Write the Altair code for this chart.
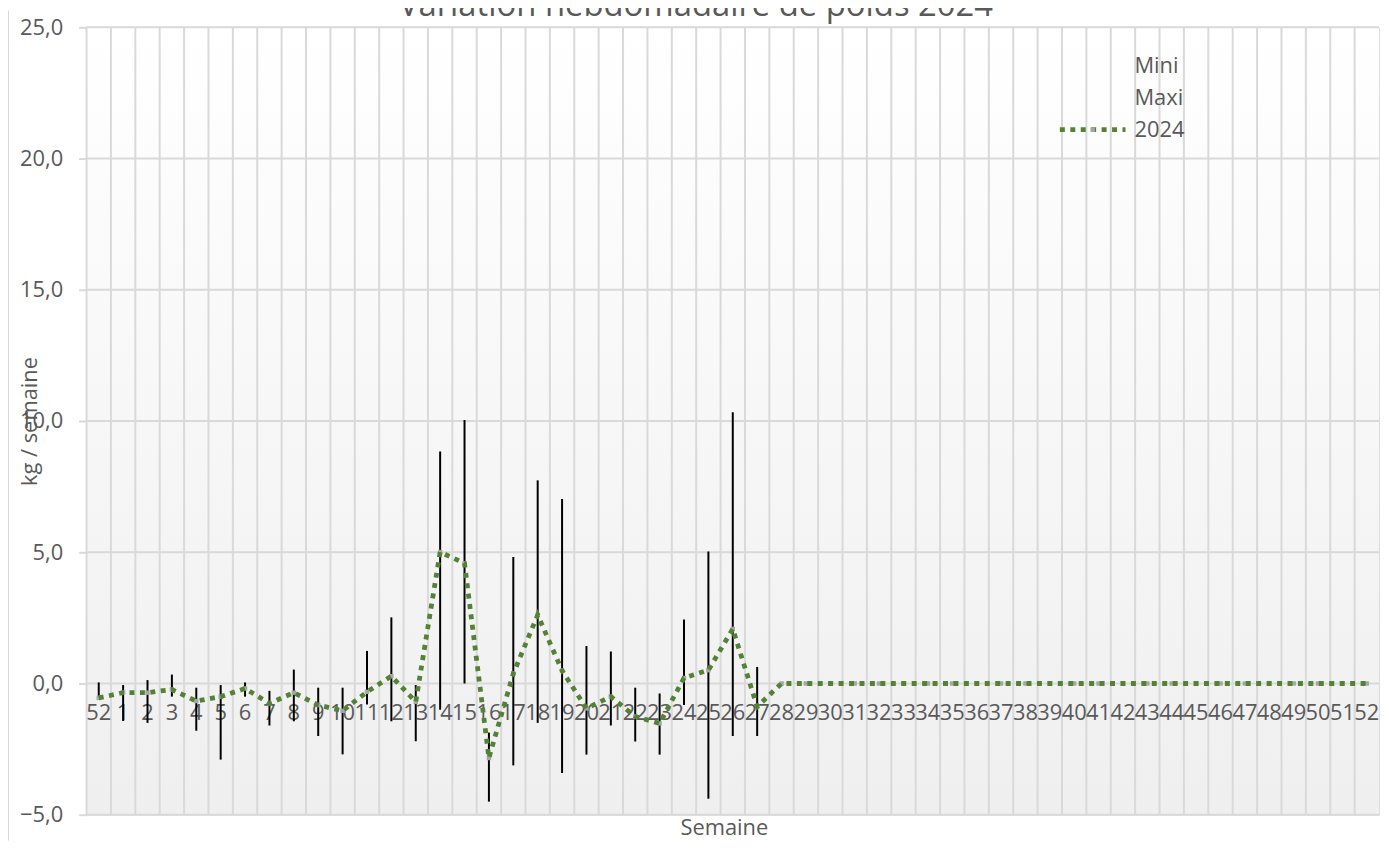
import altair as alt
import pandas as pd

# ---- data ----
weeks = ["52", "1", "2", "3", "4", "5", "6", "7", "8", "9", "10", "11", "12", "13",
         "14", "15", "16", "17", "18", "19", "20", "21", "22", "23", "24", "25", "26",
         "27", "28", "29", "30", "31", "32", "33", "34", "35", "36", "37", "38", "39",
         "40", "41", "42", "43", "44", "45", "46", "47", "48", "49", "50", "51", "52"]

maxi = [0.04, -0.06, 0.13, 0.34, -0.16, -0.06, 0.04, -0.28, 0.53, -0.16, -0.16, 1.24,
        2.52, -0.06, 8.84, 10.04, -1.87, 4.82, 7.74, 7.03, 1.43, 1.22, -0.16, -0.38,
        2.44, 5.03, 10.33, 0.63,
        None, None, None, None, None, None, None, None, None, None, None, None, None,
        None, None, None, None, None, None, None, None, None, None, None, None]

mini = [-0.57, -1.43, -1.5, -0.5, -1.8, -2.9, -0.5, -1.6, -1.44, -2.0, -2.7, -0.8,
        -1.44, -2.2, -1.0, 0.0, -4.5, -3.12, -1.5, -3.41, -2.71, -1.6, -2.21, -2.71,
        -0.82, -4.39, -2.0, -2.0,
        None, None, None, None, None, None, None, None, None, None, None, None, None,
        None, None, None, None, None, None, None, None, None, None, None, None]

v2024 = [-0.55, -0.35, -0.35, -0.23, -0.67, -0.5, -0.19, -0.76, -0.35, -0.82, -1.04,
         -0.32, 0.28, -0.7, 5.01, 4.58, -2.84, 0.38, 2.61, 0.49, -0.95, -0.5, -1.26,
         -1.52, 0.21, 0.51, 2.08, -0.88,
         0.0, 0.0, 0.0, 0.0, 0.0, 0.0, 0.0, 0.0, 0.0, 0.0, 0.0, 0.0, 0.0,
         0.0, 0.0, 0.0, 0.0, 0.0, 0.0, 0.0, 0.0, 0.0, 0.0, 0.0, 0.0]

y_ticks = [-5, 0, 5, 10, 15, 20, 25]
legend_labels = ["Mini", "Maxi", "2024"]
title_text = "Variation hebdomadaire de poids 2024"

# ---- style ----
W, H = 1300, 792
FONT = "Open Sans"
TXT = "#595959"
GRID = "#d9d9d9"
GREEN = "#548235"

df = pd.DataFrame({"idx": list(range(len(weeks))), "week": weeks,
                   "maxi": maxi, "mini": mini, "v": v2024})

xscale = alt.Scale(paddingInner=0, paddingOuter=0)
xaxis = alt.Axis(labels=False, ticks=False, domain=False, grid=False,
                 title="Semaine", titleFont=FONT, titleFontSize=22,
                 titleFontWeight="normal", titleColor=TXT,
                 titleX=641, titleY=20, titleAlign="center",
                 titleBaseline="alphabetic")
yscale = alt.Scale(domain=[-5, 25], nice=False, zero=False)
yaxis = alt.Axis(values=y_ticks,
                 labelExpr="replace(format(datum.value, '.1f'), '.', ',')",
                 labelFont=FONT, labelFontSize=22, labelColor=TXT, labelPadding=16,
                 tickSize=8, tickColor=GRID, tickWidth=2, domain=False, grid=False,
                 title="kg / semaine", titleFont=FONT, titleFontSize=22,
                 titleFontWeight="normal", titleColor=TXT, titleX=-57, titleY=396,
                 titleAngle=270, titleAlign="center", titleBaseline="middle")


def X(**kw):
    return alt.X("idx:O", scale=xscale, axis=xaxis, **kw)


def Y(field):
    return alt.Y(field, scale=yscale, axis=yaxis)


one = pd.DataFrame({"a": [0]})

bg = alt.Chart(one).mark_rect(
    fill={"gradient": "linear", "x1": 0, "x2": 0, "y1": 0, "y2": 1,
          "stops": [{"offset": 0, "color": "#ffffff"},
                    {"offset": 1, "color": "#efefef"}]}
).encode(x=alt.value(0), x2=alt.value(W), y=alt.value(0), y2=alt.value(H))

hgrid = alt.Chart(pd.DataFrame({"t": y_ticks})).mark_rule(
    color=GRID, strokeWidth=2
).encode(y=Y("t:Q"), x=alt.value(0), x2=alt.value(W))

vgrid = alt.Chart(df).mark_rule(color=GRID, strokeWidth=2).encode(
    x=X(bandPosition=0), y=alt.value(0), y2=alt.value(H))

xlabels = alt.Chart(df).mark_text(
    font=FONT, fontSize=22, color=TXT, baseline="alphabetic", dy=37
).encode(x=X(), y=alt.datum(0, scale=yscale, axis=yaxis), text="week:N")

bars = alt.Chart(df).transform_filter("isValid(datum.maxi)").mark_rule(
    color="black", strokeWidth=2
).encode(x=X(), y=Y("mini:Q"), y2="maxi:Q")

pts = alt.Chart(df).mark_square(color="#a6a6a6", size=20, opacity=1).encode(
    x=X(), y=Y("v:Q"))

line = alt.Chart(df).mark_line(
    color=GREEN, strokeWidth=4.8, strokeDash=[5, 5.5], strokeCap="butt"
).encode(x=X(), y=Y("v:Q"))

legend_layers = []
for i, lab in enumerate(legend_labels):
    legend_layers.append(
        alt.Chart(pd.DataFrame({"lab": [lab]})).mark_text(
            font=FONT, fontSize=22, color=TXT, align="left", baseline="middle"
        ).encode(text="lab:N", x=alt.value(1054), y=alt.value(39 + 32 * i))
    )
leg_line = alt.Chart(one).mark_rule(
    color=GREEN, strokeWidth=4.8, strokeDash=[5, 5.5], strokeCap="butt"
).encode(x=alt.value(979), x2=alt.value(1045), y=alt.value(103))
leg_pt = alt.Chart(one).mark_square(color="#a6a6a6", size=20, opacity=1).encode(
    x=alt.value(1012), y=alt.value(103))

title = alt.Chart(pd.DataFrame({"t": [title_text]})).mark_text(
    font=FONT, fontSize=33, color=TXT, align="center", baseline="alphabetic"
).encode(text="t:N", x=alt.value(613), y=alt.value(-11))

border = alt.Chart(one).mark_rule(color=GRID, strokeWidth=1).encode(
    x=alt.value(-78.5), y=alt.value(-17), y2=alt.value(818))

chart = alt.layer(
    bg, hgrid, vgrid, xlabels, bars, pts, line, *legend_layers, leg_line, leg_pt,
    title, border
).properties(
    width=W, height=H,
    padding={"left": 79, "top": 17, "right": 2, "bottom": 26},
    autosize=alt.AutoSizeParams(type="none"),
).configure_view(stroke=None).configure(background="white")

chart.save("out.html", embed_options={"renderer": "svg", "actions": False})
